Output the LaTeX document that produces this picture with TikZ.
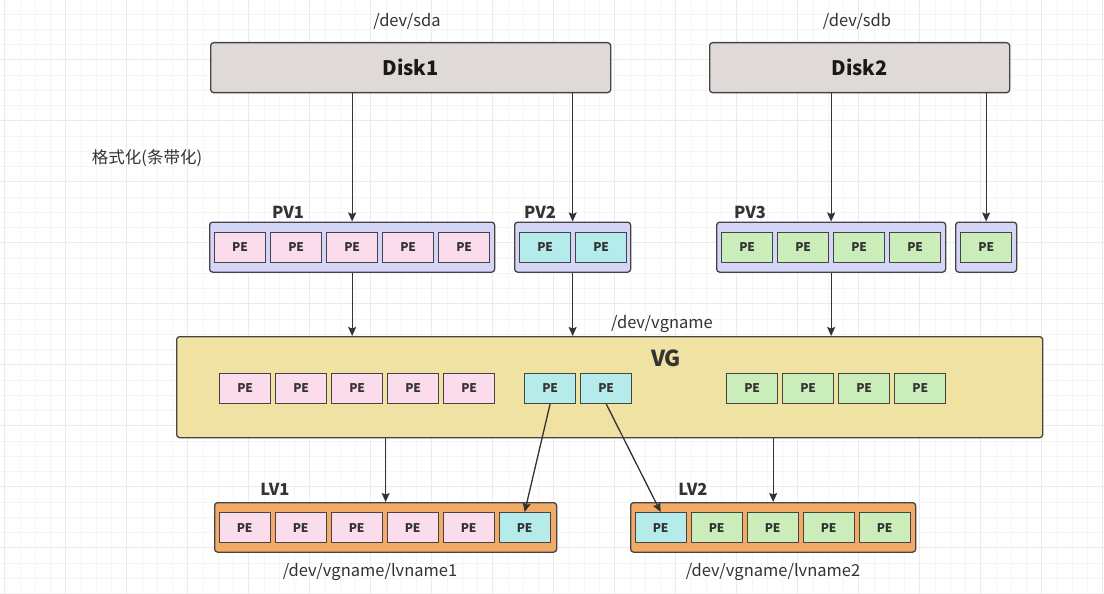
\documentclass[tikz,border=0pt]{standalone}
\usepackage{fontspec}
\setmainfont{Noto Sans CJK SC}
\usetikzlibrary{arrows.meta}
\definecolor{bordc}{RGB}{68,68,68}
\definecolor{txtc}{RGB}{51,51,51}
\definecolor{diskc}{RGB}{223,218,215}
\definecolor{pvc}{RGB}{212,213,247}
\definecolor{pinkc}{RGB}{250,220,236}
\definecolor{cyanc}{RGB}{182,235,235}
\definecolor{greenc}{RGB}{202,237,186}
\definecolor{vgc}{RGB}{240,226,162}
\definecolor{lvc}{RGB}{242,171,102}
\definecolor{gminor}{RGB}{245,245,245}
\definecolor{gmajor}{RGB}{235,235,235}
\begin{document}
\begin{tikzpicture}[x=1pt,y=-1pt,
  box/.style={draw=bordc,line width=1.3pt,rounded corners=3pt,anchor=north west,inner sep=0pt},
  pe/.style={draw=bordc,line width=1.3pt,anchor=north west,minimum width=51pt,minimum height=30pt,inner sep=0pt,font=\fontsize{12}{12}\selectfont\bfseries,text=txtc},
  lbl/.style={font=\fontsize{16.5}{16.5}\selectfont,text=txtc},
  blbl/.style={font=\fontsize{16.5}{16.5}\selectfont\bfseries,text=txtc,anchor=center},
  arr/.style={draw=txtc,line width=1.3pt,-{Stealth[length=9pt,width=8pt,inset=1.5pt]}},
  ln/.style={draw=txtc,line width=1.3pt}]
\useasboundingbox (0,0) rectangle (1104,594);
\fill[white] (0,0) rectangle (1104,594);
% grid
\foreach \i in {0,...,73} {\draw[gminor,line width=0.8pt] (4.7+\i*15.25,0) -- (4.7+\i*15.25,594);}
\foreach \i in {0,...,40} {\draw[gminor,line width=0.8pt] (0,-1.3+\i*15.25) -- (1104,-1.3+\i*15.25);}
\foreach \i in {0,...,18} {\draw[gmajor,line width=1pt] (4.7+\i*61,0) -- (4.7+\i*61,594);}
\foreach \i in {0,...,10} {\draw[gmajor,line width=1pt] (0,-1.3+\i*61) -- (1104,-1.3+\i*61);}

% disks
\node[box,fill=diskc,minimum width=400pt,minimum height=50pt] (disk1) at (210,42) {};
\node[font=\fontsize{20}{20}\selectfont\bfseries,text=black!90] (disk1t) at (disk1.center) {Disk1};
\node[box,fill=diskc,minimum width=300pt,minimum height=50pt] (disk2) at (709,42) {};
\node[font=\fontsize{20}{20}\selectfont\bfseries,text=black!90] (disk2t) at (disk2.center) {Disk2};
\node[lbl] (sda) at (407,21) {/dev/sda};
\node[lbl] (sdb) at (857,21) {/dev/sdb};
\node[lbl] (fmt) at (147,158) {格式化(条带化)};

% PVs
\node[box,fill=pvc,minimum width=285pt,minimum height=50pt] (pv1) at (209,221.5) {};
\node[box,fill=pvc,minimum width=116pt,minimum height=50pt] (pv2) at (514,221.5) {};
\node[box,fill=pvc,minimum width=229pt,minimum height=50pt] (pv3) at (716,221.5) {};
\node[box,fill=pvc,minimum width=61pt,minimum height=50pt] (pvs) at (955,221.5) {};
\foreach \i/\x in {1/214,2/270,3/326,4/382,5/438} {\node[pe,fill=pinkc] (pv1-\i) at (\x,231.5) {PE};}
\foreach \i/\x in {1/519,2/575} {\node[pe,fill=cyanc] (pv2-\i) at (\x,231.5) {PE};}
\foreach \i/\x in {1/721,2/777,3/833,4/889} {\node[pe,fill=greenc] (pv3-\i) at (\x,231.5) {PE};}
\node[pe,fill=greenc] (pvs-1) at (960,231.5) {PE};
\node[blbl] (pv1l) at (288,212) {PV1};
\node[blbl] (pv2l) at (540,212) {PV2};
\node[blbl] (pv3l) at (750,212) {PV3};

% VG
\node[box,fill=vgc,minimum width=866pt,minimum height=101pt] (vg) at (176,336) {};
\node[font=\fontsize{22}{22}\selectfont\bfseries,text=txtc] (vgl) at (666,358) {VG};
\node[lbl] (vgname) at (662,324) {/dev/vgname};
\foreach \i/\x in {1/219,2/275,3/331,4/387,5/443} {\node[pe,fill=pinkc] (vg-\i) at (\x,372.5) {PE};}
\foreach \i/\x in {6/524,7/580} {\node[pe,fill=cyanc] (vg-\i) at (\x,372.5) {PE};}
\foreach \i/\x in {8/726,9/782,10/838,11/894} {\node[pe,fill=greenc] (vg-\i) at (\x,372.5) {PE};}

% LVs
\node[box,fill=lvc,minimum width=342pt,minimum height=49.5pt] (lv1) at (214,502) {};
\node[box,fill=lvc,minimum width=285pt,minimum height=49.5pt] (lv2) at (630,502) {};
\foreach \i/\x in {1/218.5,2/274.5,3/330.5,4/386.5,5/442.5} {\node[pe,fill=pinkc] (lv1-\i) at (\x,512) {PE};}
\node[pe,fill=cyanc] (lv1-6) at (498.5,512) {PE};
\node[pe,fill=cyanc] (lv2-1) at (634.5,512) {PE};
\foreach \i/\x in {2/690.5,3/746.5,4/802.5,5/858.5} {\node[pe,fill=greenc] (lv2-\i) at (\x,512) {PE};}
\node[blbl] (lv1l) at (275,489) {LV1};
\node[blbl] (lv2l) at (693,489) {LV2};
\node[lbl] (lvn1) at (370,572) {/dev/vgname/lvname1};
\node[lbl] (lvn2) at (773,572) {/dev/vgname/lvname2};

% arrows disk -> pv
\draw[arr] (pv1-3.north |- disk1.south) -- (pv1-3.north |- pv1.north);
\draw[arr] (pv2.north |- disk1.south) -- (pv2.north);
\draw[arr] (pv3.north |- disk2.south) -- (pv3.north);
\draw[arr] (pvs.north |- disk2.south) -- (pvs.north);
% pv -> vg
\draw[arr] (pv1-3.south |- pv1.south) -- (pv1-3.south |- vg.north);
\draw[arr] (pv2.south) -- (pv2.south |- vg.north);
\draw[arr] (pv3.south) -- (pv3.south |- vg.north);
% vg -> lv
\draw[arr] (lv1.north |- vg.south) -- (lv1.north);
\draw[arr] (lv2.north |- vg.south) -- (lv2.north);
\draw[arr] (vg-6.south) -- (lv1-6.north);
\draw[arr] (vg-7.south) -- (lv2-1.north);
\end{tikzpicture}
\end{document}
